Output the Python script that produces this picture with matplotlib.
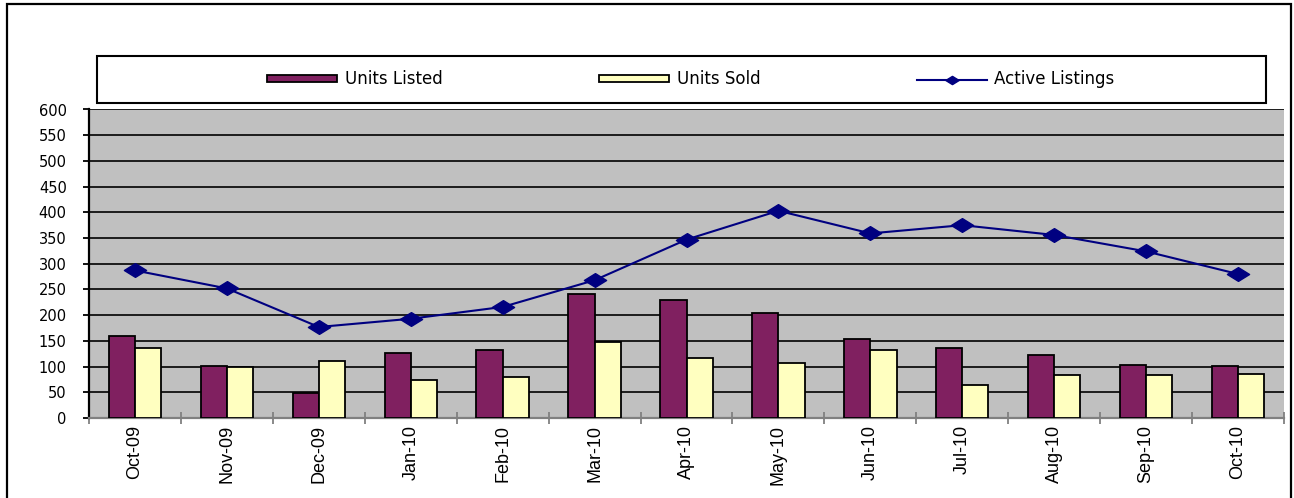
import matplotlib.pyplot as plt
import numpy as np
from matplotlib.patches import Rectangle
from matplotlib.path import Path
from matplotlib.ticker import FixedLocator, MultipleLocator

# monthly figures
months = ["Oct-09", "Nov-09", "Dec-09", "Jan-10", "Feb-10", "Mar-10", "Apr-10",
          "May-10", "Jun-10", "Jul-10", "Aug-10", "Sep-10", "Oct-10"]
units_listed = [160, 101, 48, 127, 132, 242, 230, 205, 154, 136, 123, 104, 101]
units_sold = [136, 99, 111, 73, 80, 147, 117, 107, 132, 64, 83, 83, 86]
active_listings = [287, 252, 177, 193, 216, 268, 347, 403, 359, 375, 356, 324, 280]

LISTED = "#802060"
SOLD = "#ffffc0"
LINE = "#000080"

# flattened diamond like the spreadsheet marker
diamond = Path([(-1, 0), (0, 0.62), (1, 0), (0, -0.62), (-1, 0)],
               [Path.MOVETO, Path.LINETO, Path.LINETO, Path.LINETO, Path.CLOSEPOLY])

W, H = 1294, 498
fig = plt.figure(figsize=(W / 100, H / 100), dpi=100)
ax = fig.add_axes([89 / W, 1 - 418 / H, (1284 - 89) / W, (418 - 109.5) / H])
ax.set_facecolor("#c0c0c0")

x = np.arange(len(months))
bw = 0.285
b1 = ax.bar(x - bw / 2, units_listed, bw, color=LISTED, edgecolor="black", lw=1.3,
            label="Units Listed", zorder=3)
b2 = ax.bar(x + bw / 2, units_sold, bw, color=SOLD, edgecolor="black", lw=1.3,
            label="Units Sold", zorder=3)
ln, = ax.plot(x, active_listings, color=LINE, lw=1.5, marker=diamond, ms=16,
              label="Active Listings", zorder=4)

ax.set_xlim(-0.5, len(months) - 0.5)
ax.set_ylim(0, 600)
ax.yaxis.set_major_locator(MultipleLocator(50))
ax.grid(axis="y", color="black", lw=1.2, zorder=1)

ax.set_xticks(x)
ax.set_xticklabels(months, rotation=90, fontsize=13, family="Liberation Sans")
ax.xaxis.set_minor_locator(FixedLocator(np.arange(-0.5, len(months), 1)))
ax.tick_params(axis="x", which="major", length=0, pad=5)
ax.tick_params(axis="x", which="minor", length=8, width=1.3, color="#808080",
               direction="inout")
ax.tick_params(axis="y", length=4, width=1.3, direction="out", pad=12, labelsize=10.5)
for lab in ax.get_yticklabels():
    lab.set_family("DejaVu Sans")

for s in ("top", "right"):
    ax.spines[s].set_visible(False)
ax.spines["left"].set_linewidth(1.6)
ax.spines["bottom"].set_color("#808080")
ax.spines["bottom"].set_linewidth(1.6)

# legend box and entries
fig.patches.append(Rectangle((97 / W, 1 - 103 / H), (1266 - 97) / W, 47 / H,
                             transform=fig.transFigure, fill=False,
                             edgecolor="black", lw=1.5))
fig.legend([b1, b2, ln], ["Units Listed", "Units Sold", "Active Listings"],
           loc="center", bbox_to_anchor=(691 / W, 1 - 79.5 / H), ncol=3,
           frameon=False, handlelength=4.2, handleheight=0.33,
           columnspacing=9.4, handletextpad=0.45, markerscale=0.6,
           prop={"family": "DejaVu Sans", "size": 12})

# outer chart border
fig.patches.append(Rectangle((7 / W, -0.1), (1291 - 7) / W, 1.1 - 4 / H,
                             transform=fig.transFigure, fill=False,
                             edgecolor="black", lw=1.6))

fig.savefig("out.png", dpi=100)
